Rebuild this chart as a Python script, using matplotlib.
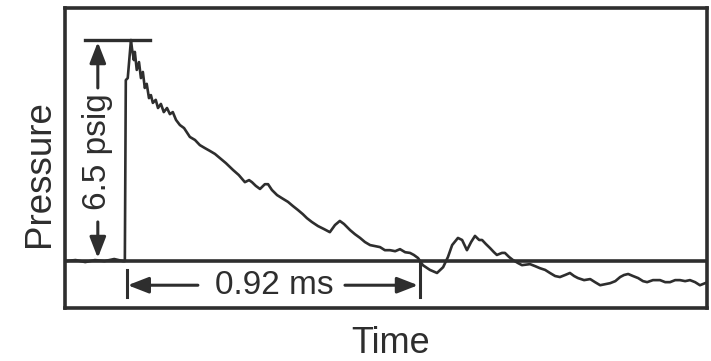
import matplotlib
matplotlib.use("Agg")
import matplotlib.pyplot as plt

plt.rcParams['font.family'] = ['Liberation Sans', 'DejaVu Sans']

INK = "#2e2e2e"

# Pressure trace: time in ms, pressure in psig
time_ms = [
    -0.180, -0.150, -0.120, -0.090, -0.060, -0.030, -0.003,
    0.003, 0.006, 0.012, 0.022, 0.025, 0.031, 0.034, 0.040, 0.047, 0.053,
    0.059, 0.065, 0.071, 0.078, 0.084, 0.090, 0.099, 0.106, 0.115, 0.124,
    0.134, 0.143, 0.152, 0.162, 0.174, 0.187, 0.205, 0.221, 0.236, 0.252,
    0.267, 0.283, 0.298, 0.317, 0.339, 0.357, 0.376, 0.389, 0.398, 0.410,
    0.423, 0.438, 0.448, 0.460, 0.476, 0.491, 0.510, 0.525, 0.541, 0.556,
    0.569, 0.584, 0.603, 0.622, 0.640, 0.656, 0.671, 0.684, 0.703, 0.718,
    0.734, 0.749, 0.765, 0.780, 0.796, 0.811, 0.827, 0.843, 0.858, 0.874,
    0.889, 0.901, 0.914, 0.929, 0.951, 0.973, 0.992, 1.007, 1.020, 1.038,
    1.051, 1.066, 1.079, 1.091, 1.104, 1.113, 1.125, 1.138, 1.150, 1.159,
    1.175, 1.184, 1.197, 1.209, 1.225, 1.237, 1.262, 1.278, 1.293, 1.309,
    1.324, 1.340, 1.355, 1.371, 1.386, 1.399, 1.411, 1.430, 1.449, 1.464,
    1.480, 1.495, 1.511, 1.527, 1.542, 1.554, 1.567, 1.582, 1.598, 1.613,
    1.626, 1.644, 1.666, 1.682, 1.697, 1.713, 1.728, 1.744, 1.759, 1.775,
    1.790, 1.806,
]
pressure_psig = [
    0.00, 0.03, -0.03, 0.03, 0.00, 0.06, 0.00,
    0.00, 5.32, 5.38, 6.50, 6.26, 5.91, 6.15, 5.62, 5.85, 5.38,
    5.56, 5.09, 5.21, 4.79, 4.88, 4.65, 4.74, 4.50, 4.62, 4.38,
    4.50, 4.32, 4.38, 4.15, 4.00, 3.91, 3.65, 3.56, 3.41, 3.32,
    3.24, 3.15, 3.03, 2.88, 2.68, 2.53, 2.32, 2.38, 2.32, 2.21,
    2.12, 2.26, 2.26, 2.09, 1.94, 1.85, 1.74, 1.62, 1.50, 1.38,
    1.26, 1.15, 1.03, 0.94, 0.85, 1.06, 1.18, 1.09, 0.91, 0.79,
    0.68, 0.56, 0.47, 0.44, 0.41, 0.32, 0.32, 0.29, 0.35, 0.26,
    0.24, 0.18, 0.09, -0.12, -0.26, -0.35, -0.18, 0.12, 0.47, 0.68,
    0.62, 0.32, 0.56, 0.74, 0.62, 0.62, 0.50, 0.38, 0.26, 0.18,
    0.24, 0.24, 0.12, 0.03, -0.06, -0.12, -0.09, -0.15, -0.21, -0.26,
    -0.35, -0.44, -0.47, -0.41, -0.35, -0.44, -0.50, -0.56, -0.53, -0.62,
    -0.71, -0.68, -0.65, -0.59, -0.47, -0.41, -0.38, -0.44, -0.50, -0.59,
    -0.62, -0.56, -0.56, -0.62, -0.62, -0.56, -0.56, -0.59, -0.56, -0.62,
    -0.71, -0.65,
]

peak_psig = 6.5
duration_ms = 0.92
peak_label = "6.5 psig"
duration_label = "0.92 ms"
x_label = "Time"
y_label = "Pressure"

fig = plt.figure(figsize=(7.11, 3.61), dpi=100)
ax = fig.add_axes([0.0914, 0.1468, 0.903, 0.831])
ax.set_xlim(-0.183, 1.812)
ax.set_ylim(-1.38, 7.44)
ax.set_xticks([])
ax.set_yticks([])
for sp in ax.spines.values():
    sp.set_linewidth(2.6)
    sp.set_color(INK)

# zero-pressure reference line
ax.axhline(0, color=INK, lw=2.6, zorder=2)

# measured trace
ax.plot(time_ms, pressure_psig, color=INK, lw=1.9, zorder=3)

# peak level bar
ax.plot([-0.121, 0.081], [peak_psig, peak_psig], color=INK, lw=2.4, zorder=3)

arrow = dict(arrowstyle='-|>,head_length=0.9,head_width=0.35', color=INK,
             lw=2.2, shrinkA=0, shrinkB=0, mutation_scale=14)

# peak amplitude dimension
xd = -0.081
ax.annotate("", xy=(xd, 6.44), xytext=(xd, 5.09), arrowprops=arrow)
ax.annotate("", xy=(xd, 0.09), xytext=(xd, 1.15), arrowprops=arrow)
ax.text(xd, 3.21, peak_label, rotation=90, ha='center', va='center',
        fontsize=24, color=INK)

# duration dimension
ya = -0.71
ax.plot([0.009, 0.009], [-0.26, -1.06], color=INK, lw=2.2)
ax.plot([duration_ms, duration_ms], [0.0, -1.06], color=INK, lw=2.2)
ax.annotate("", xy=(0.012, ya), xytext=(0.230, ya), arrowprops=arrow)
ax.annotate("", xy=(0.914, ya), xytext=(0.687, ya), arrowprops=arrow)
ax.text(0.466, -0.97, duration_label, ha='center', va='baseline',
        fontsize=24, color=INK)

fig.text(40 / 711, 1 - 174 / 361, y_label, rotation=90, ha='center',
         va='center', fontsize=26.5, color=INK)
fig.text(391 / 711, 1 - 353 / 361, x_label, ha='center', va='baseline',
         fontsize=26, color=INK)

fig.savefig("out.png", dpi=100)
